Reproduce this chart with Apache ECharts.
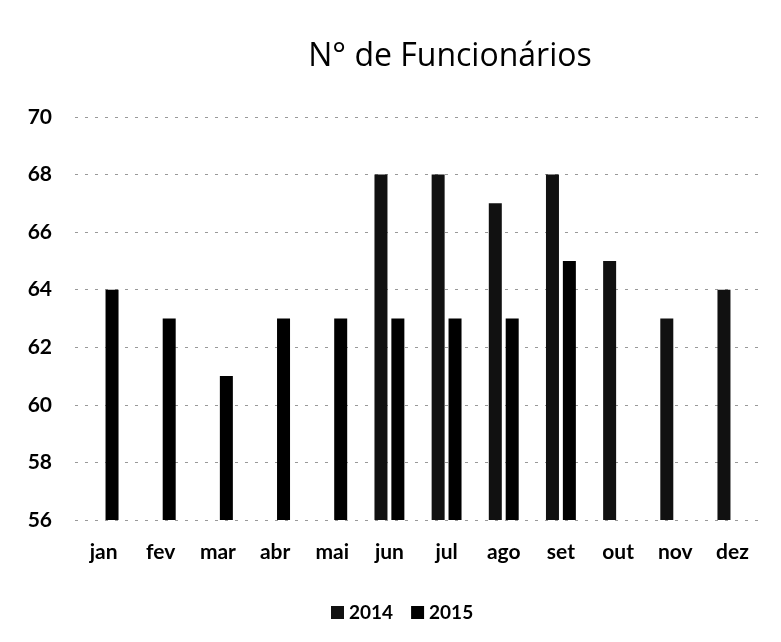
<!DOCTYPE html>
<html><head><meta charset="utf-8">
<script src="https://cdn.jsdelivr.net/npm/echarts@6/dist/echarts.min.js"></script>
<style>html,body{margin:0;padding:0;background:#fff}#c{width:781px;height:642px}</style>
</head><body><div id="c"></div>
<script>
const categories = ['jan','fev','mar','abr','mai','jun','jul','ago','set','out','nov','dez'];
const series2014 = [null,null,null,null,null,68,68,67,68,65,63,64];
const series2015 = [64,63,61,63,63,63,63,63,65,null,null,null];
const yTicks = {min:56, max:70, interval:2};

const chart = echarts.init(document.getElementById('c'));
const font = 'Lato, "Open Sans", sans-serif';
chart.setOption({
  animation:false,
  backgroundColor:'#fff',
  title:{text:'N° de Funcionários', left:445, textAlign:'center', top:36,
    textStyle:{fontFamily:'"Open Sans", sans-serif', fontSize:32, fontWeight:'normal', color:'#000'}},
  legend:{top:598, left:326, itemWidth:13, itemHeight:13, itemGap:18, icon:'rect',
    textStyle:{fontFamily:font, fontSize:19, fontWeight:'bold', color:'#000'},
    data:['2014','2015']},
  grid:{left:75, right:20, top:117, bottom:122, containLabel:false},
  xAxis:{type:'category', data:categories,
    axisLine:{show:false}, axisTick:{show:false},
    axisLabel:{fontFamily:font, fontSize:21, fontWeight:'bold', color:'#000', margin:22}},
  yAxis:{type:'value', min:yTicks.min, max:yTicks.max, interval:yTicks.interval,
    axisLine:{show:false}, axisTick:{show:false},
    axisLabel:{fontFamily:font, fontSize:21, fontWeight:'bold', color:'#000', margin:23},
    splitLine:{lineStyle:{color:'#999', type:[3,7], width:1}}},
  series:[
    {name:'2014', type:'bar', data:series2014, barWidth:13, barGap:'30%', itemStyle:{color:'#111'}},
    {name:'2015', type:'bar', data:series2015, barWidth:13, itemStyle:{color:'#000'}}
  ]
});
</script></body></html>
